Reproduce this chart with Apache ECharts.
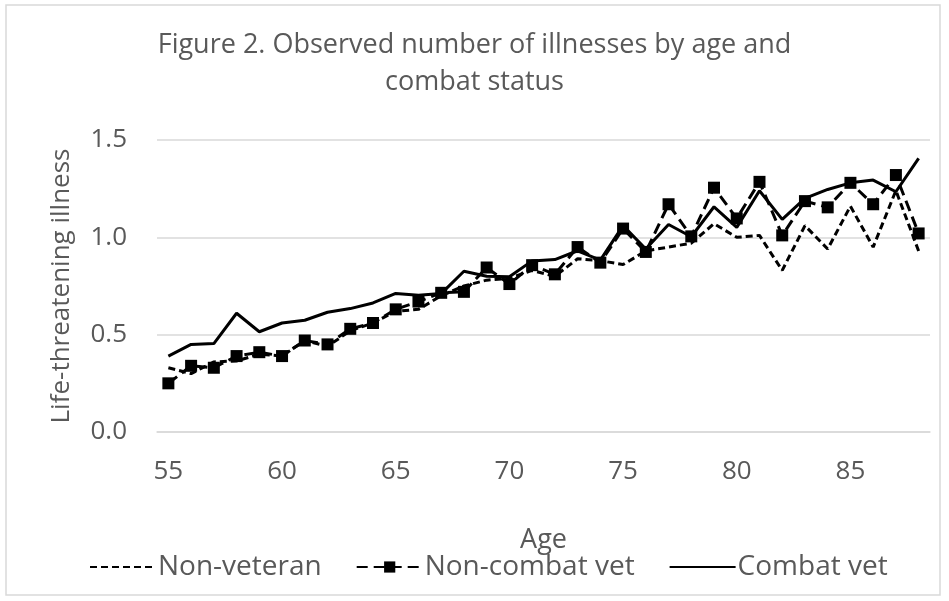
<!DOCTYPE html>
<html>
<head>
<meta charset="utf-8">
<script src="https://cdn.jsdelivr.net/npm/echarts@6/dist/echarts.min.js"></script>
<style>
html,body{margin:0;padding:0;background:#fff;}
#chart{width:949px;height:601px;}
</style>
</head>
<body>
<div id="chart"></div>
<script>
const ages = [55,56,57,58,59,60,61,62,63,64,65,66,67,68,69,70,71,72,73,74,75,76,77,78,79,80,81,82,83,84,85,86,87,88];
const nonVeteran = [0.33,0.30,0.36,0.365,0.40,0.39,0.47,0.44,0.52,0.56,0.62,0.63,0.70,0.75,0.78,0.79,0.83,0.80,0.89,0.88,0.86,0.93,0.95,0.97,1.07,1.00,1.01,0.83,1.06,0.94,1.16,0.95,1.24,0.93];
const nonCombatVet = [0.25,0.34,0.33,0.39,0.41,0.39,0.47,0.45,0.53,0.56,0.63,0.67,0.715,0.72,0.845,0.76,0.857,0.81,0.95,0.87,1.045,0.925,1.17,1.005,1.255,1.097,1.285,1.01,1.186,1.154,1.28,1.17,1.32,1.02];
const combatVet = [0.39,0.45,0.454,0.61,0.515,0.56,0.574,0.615,0.634,0.663,0.712,0.703,0.711,0.826,0.80,0.797,0.879,0.886,0.931,0.883,1.06,0.94,1.066,1.003,1.157,1.051,1.239,1.092,1.2,1.246,1.28,1.294,1.234,1.406];
const yTicks = [0, 0.5, 1.0, 1.5];

const chart = echarts.init(document.getElementById('chart'), null, {renderer:'canvas'});
const font = 'Open Sans';
const txt = '#595959';
chart.setOption({
  animation:false,
  backgroundColor:'#fff',
  textStyle:{fontFamily:font},
  title:{
    text:'Figure 2. Observed number of illnesses by age and\ncombat status',
    left:'center', top:22,
    textStyle:{fontFamily:font,fontSize:27,fontWeight:'normal',color:txt,lineHeight:37}
  },
  graphic:[{type:'rect',shape:{x:6,y:5,width:934,height:590},style:{fill:'none',stroke:'#d9d9d9',lineWidth:1.5},silent:true}],
  grid:{left:157,right:19,top:140,bottom:169,containLabel:false},
  legend:{
    bottom:15,left:84,itemWidth:66,itemHeight:14,itemGap:34,
    textStyle:{fontFamily:font,fontSize:28,color:txt,padding:[0,0,0,-3]},
    data:[
      {name:'Non-veteran',itemStyle:{opacity:0}},
      {name:'Non-combat vet'},
      {name:'Combat vet',itemStyle:{opacity:0}}
    ]
  },
  xAxis:{
    type:'category',data:ages,boundaryGap:true,
    name:'Age',nameLocation:'middle',nameGap:95,
    nameTextStyle:{fontFamily:font,fontSize:27,color:txt},
    axisLine:{show:true,lineStyle:{color:'#d9d9d9',width:1.5}},
    axisTick:{show:false},
    axisLabel:{interval:4,margin:27,fontFamily:font,fontSize:26,color:txt}
  },
  yAxis:{
    type:'value',min:yTicks[0],max:yTicks[yTicks.length-1],interval:0.5,
    name:'Life-threatening illness',nameLocation:'middle',nameGap:82,
    nameTextStyle:{fontFamily:font,fontSize:26,color:txt},
    axisLine:{show:false},axisTick:{show:false},
    axisLabel:{margin:30,fontFamily:font,fontSize:26,color:txt,formatter:v=>v.toFixed(1)},
    splitLine:{lineStyle:{color:'#d9d9d9',width:1.5}}
  },
  series:[
    {name:'Non-veteran',type:'line',data:nonVeteran,symbol:'none',
     lineStyle:{color:'#000',width:3,type:[7,4]},itemStyle:{color:'#000'}},
    {name:'Non-combat vet',type:'line',data:nonCombatVet,symbol:'rect',symbolSize:12,
     lineStyle:{color:'#000',width:3,type:[11,6]},itemStyle:{color:'#000'}},
    {name:'Combat vet',type:'line',data:combatVet,symbol:'none',
     lineStyle:{color:'#000',width:3},itemStyle:{color:'#000'}}
  ]
});
</script>
</body>
</html>
